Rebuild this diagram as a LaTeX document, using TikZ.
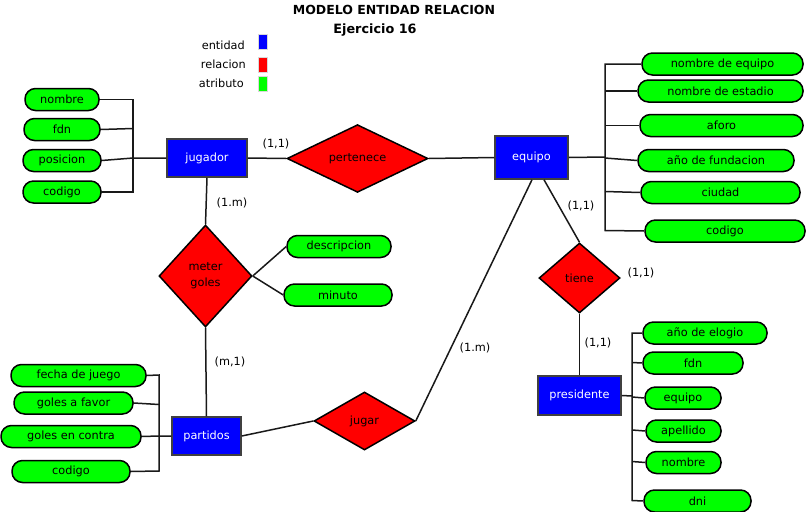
\documentclass[tikz,border=0pt]{standalone}
\usepackage{fontspec}
\setmainfont{DejaVu Sans}
\usetikzlibrary{shapes.geometric}
\newcommand\txtfs{\fontsize{11.3}{12.5}\selectfont}
\newcommand\twolinefs{\fontsize{11.3}{16}\selectfont}
\begin{document}
\begin{tikzpicture}[x=1pt,y=-1pt,
  ent/.style={draw=black!75, fill=blue, line width=1.5pt, text=white, inner sep=0pt, font=\txtfs},
  rel/.style={diamond, draw=black, fill=red, line width=1.5pt, inner sep=0pt, aspect=1, font=\txtfs, align=center},
  att/.style={draw=black, fill=green, line width=1.5pt, rounded corners=10.5pt, minimum height=22pt, inner sep=0pt, font=\txtfs},
  ln/.style={line width=1.5pt, draw=black!90},
  lbl/.style={font=\txtfs, inner sep=0pt},
  sq/.style={draw=black!15, line width=0.5pt, minimum width=9pt, minimum height=15pt, inner sep=0pt}]
\useasboundingbox[fill=white] (0,0) rectangle (807,512);

% title and legend
\node[font=\bfseries\fontsize{12.5}{14}\selectfont] (title) at (394,10) {MODELO ENTIDAD RELACION};
\node[font=\bfseries\fontsize{12.8}{14}\selectfont] (sub) at (375,30) {Ejercicio 16};
\node[lbl, anchor=east] (lent) at (245,45) {entidad};
\node[lbl, anchor=east] (lrel) at (246,64) {relacion};
\node[lbl, anchor=east] (latt) at (244,83) {atributo};
\node[sq, fill=blue] (sqe) at (262.5,41.5) {};
\node[sq, fill=red] (sqr) at (262.5,64.5) {};
\node[sq, fill=green] (sqa) at (262.5,83.5) {};

% entities
\node[ent, minimum width=80pt, minimum height=38pt] (jug) at (207,158) {jugador};
\node[ent, minimum width=73pt, minimum height=43pt] (equ) at (531.5,157.5) {equipo};
\node[ent, minimum width=69pt, minimum height=38pt] (par) at (206.5,436) {partidos};
\node[ent, minimum width=83pt, minimum height=39pt] (pre) at (579.5,395.5) {presidente};

% relations
\node[rel, minimum width=141pt, minimum height=65pt] (per) at (357.5,158.5) {pertenece};
\node[rel, minimum width=93pt, minimum height=102pt, font=\twolinefs] (met) at (205.5,276) {meter\\goles};
\node[rel, minimum width=101pt, minimum height=58pt] (jgr) at (364.5,421) {jugar};
\node[rel, minimum width=81pt, minimum height=70pt] (tie) at (579.5,278) {tiene};

% attributes jugador
\node[att, minimum width=74pt] (j1) at (62,99.5) {nombre};
\node[att, minimum width=76pt] (j2) at (62,129.5) {fdn};
\node[att, minimum width=78pt] (j3) at (62,160.5) {posicion};
\node[att, minimum width=78pt] (j4) at (62,192) {codigo};

% attributes equipo
\node[att, minimum width=161pt] (e1) at (722.5,64) {nombre de equipo};
\node[att, minimum width=165pt] (e2) at (720.5,91) {nombre de estadio};
\node[att, minimum width=163pt] (e3) at (721.5,125.5) {aforo};
\node[att, minimum width=156pt] (e4) at (716,160.5) {año de fundacion};
\node[att, minimum width=159pt] (e5) at (720.5,192.5) {ciudad};
\node[att, minimum width=160pt] (e6) at (725,231) {codigo};

% attributes meter goles
\node[att, minimum width=104pt] (m1) at (339,246.5) {descripcion};
\node[att, minimum width=108pt] (m2) at (338,295) {minuto};

% attributes partidos
\node[att, minimum width=135pt] (p1) at (78.5,375.5) {fecha de juego};
\node[att, minimum width=119pt] (p2) at (73.5,403) {goles a favor};
\node[att, minimum width=140pt] (p3) at (71,436.5) {goles en contra};
\node[att, minimum width=118pt] (p4) at (71,471.5) {codigo};

% attributes presidente
\node[att, minimum width=124pt] (r1) at (705,333) {año de elogio};
\node[att, minimum width=100pt] (r2) at (693,363) {fdn};
\node[att, minimum width=76pt] (r3) at (683,398) {equipo};
\node[att, minimum width=75pt] (r4) at (683.5,431) {apellido};
\node[att, minimum width=75pt] (r5) at (683.5,462.5) {nombre};
\node[att, minimum width=107pt] (r6) at (697.5,501) {dni};

% bracket coordinates
\coordinate (bjt) at (133,99.5);
\coordinate (bj2) at (133,128.5);
\coordinate (bjm) at (133,158);
\coordinate (bjb) at (133,192);
\coordinate (be1) at (605,64);
\coordinate (be2) at (605,91);
\coordinate (be3) at (605,125.5);
\coordinate (be4) at (605,158);
\coordinate (be5) at (605,191.5);
\coordinate (be6) at (605,230.5);
\coordinate (bem) at (605,157);
\coordinate (bp1) at (159,375);
\coordinate (bp2) at (159,404.5);
\coordinate (bpm) at (159,436);
\coordinate (bp4) at (159,471);
\coordinate (br1) at (632,333);
\coordinate (br2) at (632,362.5);
\coordinate (br3) at (632,397);
\coordinate (br4) at (632,430);
\coordinate (br5) at (632,461.5);
\coordinate (br6) at (632,500.5);
\coordinate (brm) at (632,396);

% attribute connectors
\draw[ln] (j1.east) -- (bjt) -- (bjb) -- (j4.east);
\draw[ln] (j2.east) -- (bj2);
\draw[ln] (j3.east) -- (bjm) -- (jug.west);

\draw[ln] (e1.west) -- (be1) -- (be6) -- (e6.west);
\draw[ln] (e2.west) -- (be2);
\draw[ln] (e3.west) -- (be3);
\draw[ln] (e4.west) -- (be4);
\draw[ln] (e5.west) -- (be5);
\draw[ln] (equ.east) -- (bem);

\draw[ln] (met.east) -- (m1.west);
\draw[ln] (met.east) -- (m2.west);

\draw[ln] (p1.east) -- (bp1) -- (bp4) -- (p4.east);
\draw[ln] (p2.east) -- (bp2);
\draw[ln] (p3.east) -- (bpm) -- (par.west);

\draw[ln] (r1.west) -- (br1) -- (br6) -- (r6.west);
\draw[ln] (r2.west) -- (br2);
\draw[ln] (r3.west) -- (br3);
\draw[ln] (r4.west) -- (br4);
\draw[ln] (r5.west) -- (br5);
\draw[ln] (pre.east) -- (brm);

% relationship connectors
\draw[ln] (jug.east) -- (per.west);
\draw[ln] (per.east) -- (equ.west);
\draw[ln] (jug.south) -- (met.north);
\draw[ln] (met.south) -- (par.north);
\draw[ln] (par.east) -- (jgr.west);
\draw[ln] (jgr.east) -- ([xshift=0.5pt]equ.south);
\draw[ln] ([xshift=12.5pt]equ.south) -- (tie.north);
\draw[ln] (tie.south) -- (pre.north);

% cardinality labels
\node[lbl] (c1) at (276,144) {(1,1)};
\node[lbl] (c2) at (232,203) {(1.m)};
\node[lbl] (c3) at (230,362) {(m,1)};
\node[lbl] (c4) at (475,348) {(1.m)};
\node[lbl] (c5) at (581,206) {(1,1)};
\node[lbl] (c6) at (641,273) {(1,1)};
\node[lbl] (c7) at (598,343) {(1,1)};
\end{tikzpicture}
\end{document}
